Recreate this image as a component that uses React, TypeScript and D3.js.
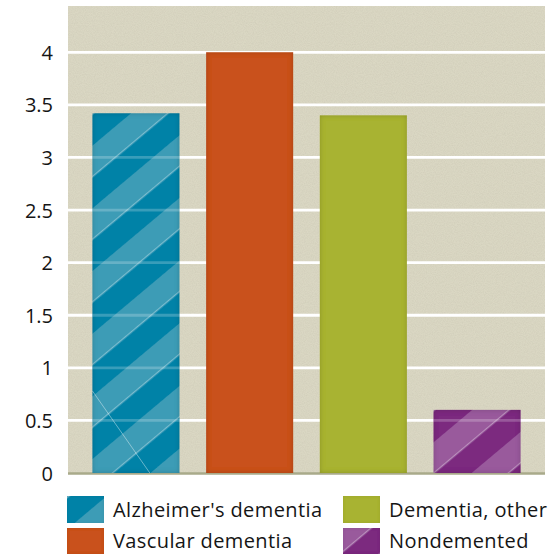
import React from "react";
import * as d3 from "d3";

const categories = ["Alzheimer's dementia", "Vascular dementia", "Dementia, other", "Nondemented"];
const values = [3.42, 4.0, 3.4, 0.6];
const yTicks = [0, 0.5, 1, 1.5, 2, 2.5, 3, 3.5, 4];
const yTickLabels = ["0", "0.5", "1", "1.5", "2", "2.5", "3", "3.5", "4"];
const baseColors = ["#0582a7", "#c9511e", "#a8b330", "#7b2a7f"];
const stripeColors = ["#3c9cb6", "", "", "#995a9c"];
// stripe phase for bars and legend swatches (pattern-space offset)
const barPhase = [27, 0, 0, 41.5];
const swatchPhase = [16.6, 0, 0, 43.3];
const legendCol = [0, 0, 1, 1];
const legendRow = [0, 1, 0, 1];

const W = 557;
const H = 554;
const M = { left: 68, right: 545, top: 6, bottom: 473 };
const FONT = "'Open Sans', 'Noto Sans', sans-serif";

function StripePattern({ id, base, light, phase }: { id: string; base: string; light: string; phase: number }) {
  return (
    <pattern
      id={id}
      patternUnits="userSpaceOnUse"
      x={0}
      y={phase}
      width={200}
      height={48}
      patternTransform="rotate(-40)"
    >
      <rect x={0} y={0} width={200} height={48} fill={base} />
      <rect x={0} y={0} width={200} height={24} fill={light} />
      <rect x={0} y={23.4} width={200} height={0.9} fill="#ffffff" opacity={0.55} />
    </pattern>
  );
}

export default function App() {
  const x = d3
    .scaleBand<string>()
    .domain(categories)
    .range([M.left, M.right])
    .paddingInner(0.235)
    .paddingOuter(0.215);
  const y = d3.scaleLinear().domain([0, 4.44]).range([M.bottom, M.top]);
  const bw = x.bandwidth();

  const legendX = [67, 343];
  const legendY = [496, 528];
  const legendBase = [517, 548];
  const swW = 37;
  const swH = [27, 26];

  return (
    <svg
      width={W}
      height={H}
      style={{ position: "absolute", left: 0, top: 0, display: "block" }}
      xmlns="http://www.w3.org/2000/svg"
    >
      <defs>
        {categories.map((c, i) =>
          stripeColors[i] ? (
            <StripePattern key={"p" + i} id={"bar-pat-" + i} base={baseColors[i]} light={stripeColors[i]} phase={barPhase[i]} />
          ) : null
        )}
        {categories.map((c, i) =>
          stripeColors[i] ? (
            <StripePattern key={"s" + i} id={"sw-pat-" + i} base={baseColors[i]} light={stripeColors[i]} phase={swatchPhase[i]} />
          ) : null
        )}
        <filter id="innerShadow" x="-5%" y="-5%" width="110%" height="110%">
          <feFlood floodColor="#000" floodOpacity="0.38" result="flood" />
          <feComposite in="flood" in2="SourceAlpha" operator="out" result="outside" />
          <feGaussianBlur in="outside" stdDeviation="2.6" result="blur" />
          <feComposite in="blur" in2="SourceAlpha" operator="in" result="inner" />
          <feMerge>
            <feMergeNode in="SourceGraphic" />
            <feMergeNode in="inner" />
          </feMerge>
        </filter>
        <filter id="innerShadowSoft" x="-5%" y="-5%" width="110%" height="110%">
          <feFlood floodColor="#000" floodOpacity="0.2" result="flood" />
          <feComposite in="flood" in2="SourceAlpha" operator="out" result="outside" />
          <feGaussianBlur in="outside" stdDeviation="1.5" result="blur" />
          <feComposite in="blur" in2="SourceAlpha" operator="in" result="inner" />
          <feMerge>
            <feMergeNode in="SourceGraphic" />
            <feMergeNode in="inner" />
          </feMerge>
        </filter>
        <filter id="paper" x="0" y="0" width="100%" height="100%">
          <feTurbulence type="fractalNoise" baseFrequency="0.9" numOctaves="2" seed="7" result="noise" />
          <feColorMatrix
            in="noise"
            type="matrix"
            values="0 0 0 0 0.55  0 0 0 0 0.53  0 0 0 0 0.42  0.7 0 0 0 -0.22"
          />
        </filter>
      </defs>

      {/* plot background */}
      <rect x={M.left} y={M.top} width={M.right - M.left} height={M.bottom - M.top} fill="#dad7c3" />
      <rect
        x={M.left}
        y={M.top}
        width={M.right - M.left}
        height={M.bottom - M.top}
        fill="#fff"
        filter="url(#paper)"
        opacity={0.9}
      />

      {/* gridlines */}
      {yTicks
        .filter((t) => t > 0)
        .map((t) => (
          <line key={"g" + t} x1={M.left} x2={M.right} y1={y(t)} y2={y(t)} stroke="#ffffff" strokeWidth={2.8} />
        ))}

      {/* baseline */}
      <line x1={M.left} x2={M.right} y1={y(0) + 0.5} y2={y(0) + 0.5} stroke="#a9aa8a" strokeWidth={2.5} />

      {/* bars */}
      {categories.map((c, i) => {
        const bx = x(c) as number;
        const by = y(values[i]);
        const bh = y(0) - by;
        const fill = stripeColors[i] ? `url(#bar-pat-${i})` : baseColors[i];
        return (
          <g key={"b" + i}>
            <rect x={bx} y={by} width={bw} height={bh} fill={fill} filter="url(#innerShadow)" />
            {stripeColors[i]
              ? yTicks
                  .filter((t) => t > 0 && t < values[i])
                  .map((t) => (
                    <line
                      key={"bg" + t}
                      x1={bx}
                      x2={bx + bw}
                      y1={y(t)}
                      y2={y(t)}
                      stroke="#ffffff"
                      strokeOpacity={0.22}
                      strokeWidth={2.8}
                    />
                  ))
              : null}
          </g>
        );
      })}

      {/* faint crossing line on the Alzheimer's bar */}
      {(() => {
        const c = categories[0];
        const bx = x(c) as number;
        return (
          <line
            x1={bx}
            y1={y(0.78)}
            x2={bx + bw * 0.66}
            y2={y(0)}
            stroke="#ffffff"
            strokeOpacity={0.45}
            strokeWidth={0.9}
          />
        );
      })()}

      {/* y axis labels */}
      {yTicks.map((t, i) => (
        <text
          key={"t" + t}
          x={53}
          y={y(t)}
          textAnchor="end"
          dominantBaseline="central"
          fontFamily={FONT}
          fontSize={20}
          fill="#151515"
        >
          {yTickLabels[i]}
        </text>
      ))}

      {/* legend */}
      {categories.map((c, i) => {
        const lx = legendX[legendCol[i]];
        const ly = legendY[legendRow[i]];
        const fill = stripeColors[i] ? `url(#sw-pat-${i})` : baseColors[i];
        return (
          <g key={"l" + i}>
            <rect x={lx} y={ly} width={swW} height={swH[legendRow[i]]} fill={fill} filter="url(#innerShadowSoft)" />
            <text
              x={lx + swW + 9}
              y={legendBase[legendRow[i]]}
              fontFamily={FONT}
              fontSize={20}
              letterSpacing={0.4}
              fill="#151515"
            >
              {c}
            </text>
          </g>
        );
      })}
    </svg>
  );
}
